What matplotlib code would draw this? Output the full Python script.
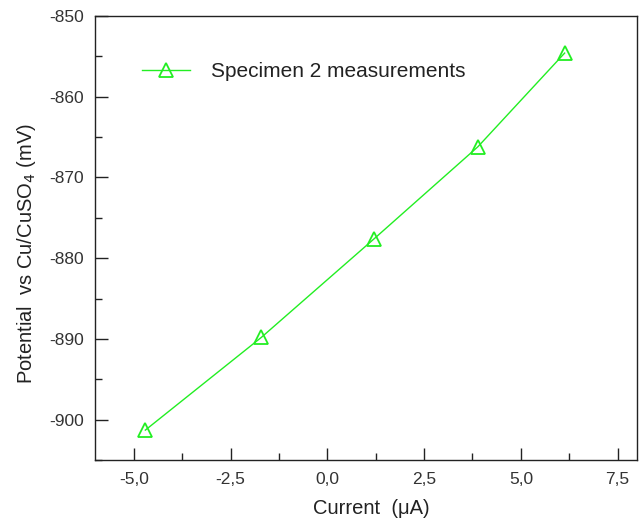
import matplotlib
matplotlib.use("Agg")
import matplotlib.pyplot as plt
from matplotlib.ticker import MultipleLocator, FuncFormatter

# values
current = [-4.70, -1.70, 1.21, 3.89, 6.13]
potential = [-901.3, -889.8, -877.6, -866.2, -854.6]
series_label = "Specimen 2 measurements"

plt.rcParams['font.family'] = ['Liberation Sans', 'DejaVu Sans']

fig = plt.figure(figsize=(6.41, 5.23), dpi=100)
ax = fig.add_axes([0.1482, 0.1205, 0.8456, 0.849])

green = '#22ee22'
ax.plot(current, potential, color=green, lw=1.0, marker='^', ms=10,
        mfc='none', mec=green, mew=1.3, label=series_label)

ax.set_xlim(-6, 8)
ax.set_ylim(-905, -850)
ax.xaxis.set_major_locator(MultipleLocator(2.5))
ax.xaxis.set_minor_locator(MultipleLocator(1.25))
ax.yaxis.set_major_locator(MultipleLocator(10))
ax.yaxis.set_minor_locator(MultipleLocator(5))
ax.xaxis.set_major_formatter(FuncFormatter(lambda v, p: f"{v:.1f}".replace('.', ',')))
ax.yaxis.set_major_formatter(FuncFormatter(lambda v, p: f"{v:.0f}"))

ax.tick_params(which='both', direction='in', color='#222222', width=1.0,
               labelsize=12.5, labelcolor='#333333')
ax.tick_params(which='major', length=9)
ax.tick_params(which='minor', length=5)
ax.tick_params(axis='x', pad=9)
ax.tick_params(axis='y', pad=8)
for s in ax.spines.values():
    s.set_color('#222222')
    s.set_linewidth(1.0)

ax.set_xlabel('Current  (μA)', fontsize=14.5, color='#222222')
ax.set_ylabel('Potential  vs Cu/CuSO$_4$ (mV)', fontsize=14.5, color='#222222')
ax.xaxis.set_label_coords(0.51, -0.088)
ax.yaxis.set_label_coords(-0.106, 0.466)

ax.legend(loc='center left', bbox_to_anchor=((142 - 95) / 542, (460 - 72) / 444),
          frameon=False, fontsize=15, handlelength=2.3, handletextpad=1.0,
          borderpad=0, borderaxespad=0, labelcolor='#222222')

fig.savefig('out.png', dpi=100)
